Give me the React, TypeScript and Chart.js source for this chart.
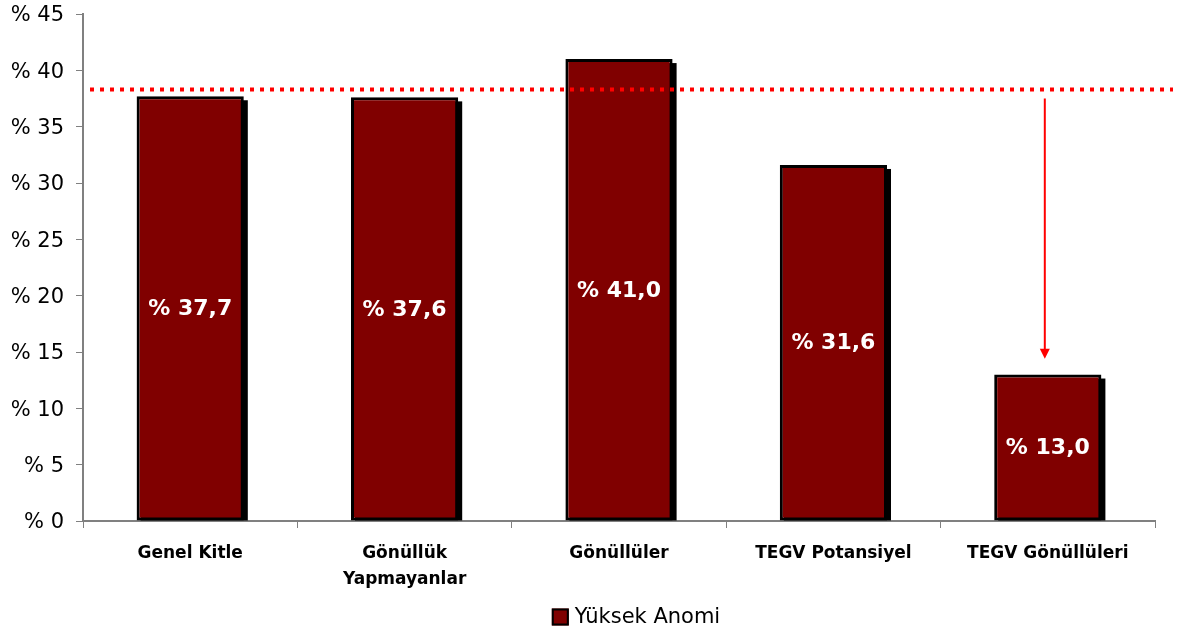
import React, { useEffect, useRef } from "react";
import { Chart, registerables } from "chart.js";

Chart.register(...registerables);

const categories: (string | string[])[] = [
  "Genel Kitle",
  ["Gönüllük", "Yapmayanlar"],
  "Gönüllüler",
  "TEGV Potansiyel",
  "TEGV Gönüllüleri",
];
const values = [37.7, 37.6, 41.0, 31.6, 13.0];
const seriesName = "Yüksek Anomi";
const referenceLine = 38.3;
const arrowFrom = 37.5;
const arrowTo = 14.4;
const arrowCategory = 4;
const yTicks = [0, 5, 10, 15, 20, 25, 30, 35, 40, 45];

const FONT = "'DejaVu Sans', Verdana, sans-serif";
const BAR = "#800000";

const fmt = (v: number) => "% " + v.toFixed(1).replace(".", ",");

const decorPlugin = {
  id: "decor",
  beforeDatasetsDraw(chart: any) {
    const ctx = chart.ctx;
    const meta = chart.getDatasetMeta(0);
    ctx.save();
    ctx.fillStyle = "#000";
    meta.data.forEach((el: any) => {
      const { x, y, base, width } = el.getProps(["x", "y", "base", "width"], true);
      ctx.fillRect(x - width / 2 + 4, y + 4, width, base - y - 4);
    });
    ctx.restore();
  },
  afterDatasetsDraw(chart: any) {
    const ctx = chart.ctx;
    const meta = chart.getDatasetMeta(0);
    const ys = chart.scales.y;
    const xs = chart.scales.x;
    const area = chart.chartArea;
    ctx.save();
    ctx.fillStyle = "#fff";
    ctx.font = `bold 22px ${FONT}`;
    ctx.textAlign = "center";
    ctx.textBaseline = "middle";
    meta.data.forEach((el: any, i: number) => {
      const { x, y, base } = el.getProps(["x", "y", "base"], true);
      ctx.fillText(fmt(values[i]), x, (y + base) / 2 + 1);
    });
    const ly = ys.getPixelForValue(referenceLine);
    ctx.strokeStyle = "#ff0000";
    ctx.lineWidth = 4;
    ctx.setLineDash([4, 6]);
    ctx.beginPath();
    ctx.moveTo(area.left + 7, ly);
    ctx.lineTo(area.right + 18, ly);
    ctx.stroke();
    ctx.setLineDash([]);
    const ax = xs.getPixelForValue(arrowCategory) - 3;
    const y1 = ys.getPixelForValue(arrowFrom);
    const y2 = ys.getPixelForValue(arrowTo);
    ctx.lineWidth = 2;
    ctx.beginPath();
    ctx.moveTo(ax, y1);
    ctx.lineTo(ax, y2 - 9);
    ctx.stroke();
    ctx.fillStyle = "#ff0000";
    ctx.beginPath();
    ctx.moveTo(ax - 5, y2 - 10);
    ctx.lineTo(ax + 5, y2 - 10);
    ctx.lineTo(ax, y2);
    ctx.closePath();
    ctx.fill();
    ctx.restore();
  },
  afterDraw(chart: any) {
    const ctx = chart.ctx;
    const area = chart.chartArea;
    ctx.save();
    ctx.font = `21px ${FONT}`;
    const tw = ctx.measureText(seriesName).width;
    const box = 17;
    const gap = 6;
    const total = box + gap + tw;
    const cx = (area.left + area.right) / 2 + 17;
    const left = cx - total / 2;
    const cy = chart.height - 17;
    ctx.fillStyle = BAR;
    ctx.fillRect(left, cy - box / 2, box, box);
    ctx.strokeStyle = "#000";
    ctx.lineWidth = 2;
    ctx.strokeRect(left + 1, cy - box / 2 + 1, box - 2, box - 2);
    ctx.fillStyle = "#000";
    ctx.textBaseline = "middle";
    ctx.textAlign = "left";
    ctx.fillText(seriesName, left + box + gap, cy + 1);
    ctx.restore();
  },
};

export default function App() {
  const ref = useRef<HTMLCanvasElement | null>(null);
  useEffect(() => {
    if (!ref.current) return;
    const chart = new Chart(ref.current, {
      type: "bar",
      data: {
        labels: categories,
        datasets: [
          {
            label: seriesName,
            data: values,
            backgroundColor: BAR,
            borderColor: "#000",
            borderWidth: 3,
            borderSkipped: false,
            barPercentage: 0.5,
            categoryPercentage: 1,
          },
        ],
      },
      options: {
        animation: false,
        responsive: true,
        maintainAspectRatio: false,
        layout: { autoPadding: false, padding: { top: 14, right: 25, bottom: 38, left: 0 } },
        plugins: {
          legend: { display: false },
          tooltip: { enabled: false },
        },
        scales: {
          x: {
            grid: {
              offset: true,
              drawOnChartArea: false,
              drawTicks: true,
              tickLength: 7,
              color: "#808080",
            },
            border: { color: "#808080", width: 2 },
            ticks: {
              color: "#000",
              font: { family: FONT, size: 17, weight: "bold", lineHeight: 1.55 },
              padding: 12,
              maxRotation: 0,
              autoSkip: false,
            },
            afterFit(scale: any) {
              scale.height = 75;
            },
          },
          y: {
            min: 0,
            max: 45,
            afterBuildTicks(scale: any) {
              scale.ticks = yTicks.map((v) => ({ value: v }));
            },
            grid: {
              drawOnChartArea: false,
              drawTicks: true,
              tickLength: 7,
              color: "#808080",
            },
            border: { color: "#808080", width: 2 },
            ticks: {
              color: "#000",
              font: { family: FONT, size: 21, lineHeight: 0.5 },
              padding: 12,
              labelOffset: 2,
              callback: (v: any) => "% " + v,
            },
            afterFit(scale: any) {
              scale.width = 83;
              scale.paddingTop = 0;
              scale.paddingBottom = 0;
            },
          },
        },
      },
      plugins: [decorPlugin],
    });
    return () => chart.destroy();
  }, []);
  return (
    <div style={{ position: "fixed", left: 0, top: 0, width: 1180, height: 634, background: "#fff" }}>
      <canvas ref={ref} />
    </div>
  );
}
